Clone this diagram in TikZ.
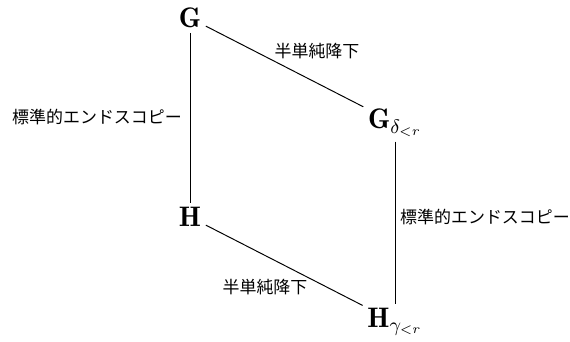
\documentclass[tikz,border=0pt]{standalone}
\usepackage{fontspec}
\newfontfamily\cjk{Noto Sans CJK JP}
\tikzset{
  obj/.style={inner sep=2pt, font=\fontsize{13}{15}\selectfont},
  lbl/.style={font=\fontsize{7.8}{9}\selectfont\cjk, inner sep=1pt},
  conn/.style={line width=0.45pt}
}
\begin{document}
\begin{tikzpicture}[x=0.46pt,y=-0.46pt]
\useasboundingbox (0,0) rectangle (570,341);
\node[obj] (G) at (190,18) {$\mathbf{G}$};
\node[obj] (Gd) at (395,123) {$\mathbf{G}_{\delta_{<r}}$};
\node[obj] (H) at (190,217) {$\mathbf{H}$};
\node[obj] (Hg) at (395,322) {$\mathbf{H}_{\gamma_{<r}}$};
\draw[conn] (G) -- (Gd);
\draw[conn] (G) -- (H);
\draw[conn] (Gd) -- (Hg);
\draw[conn] (H) -- (Hg);
\node[lbl] (l1) at (317,51) {半単純降下};
\node[lbl] (l2) at (265,287) {半単純降下};
\node[lbl] (l3) at (97,117) {標準的エンドスコピー};
\node[lbl] (l4) at (485,217) {標準的エンドスコピー};
\end{tikzpicture}
\end{document}
